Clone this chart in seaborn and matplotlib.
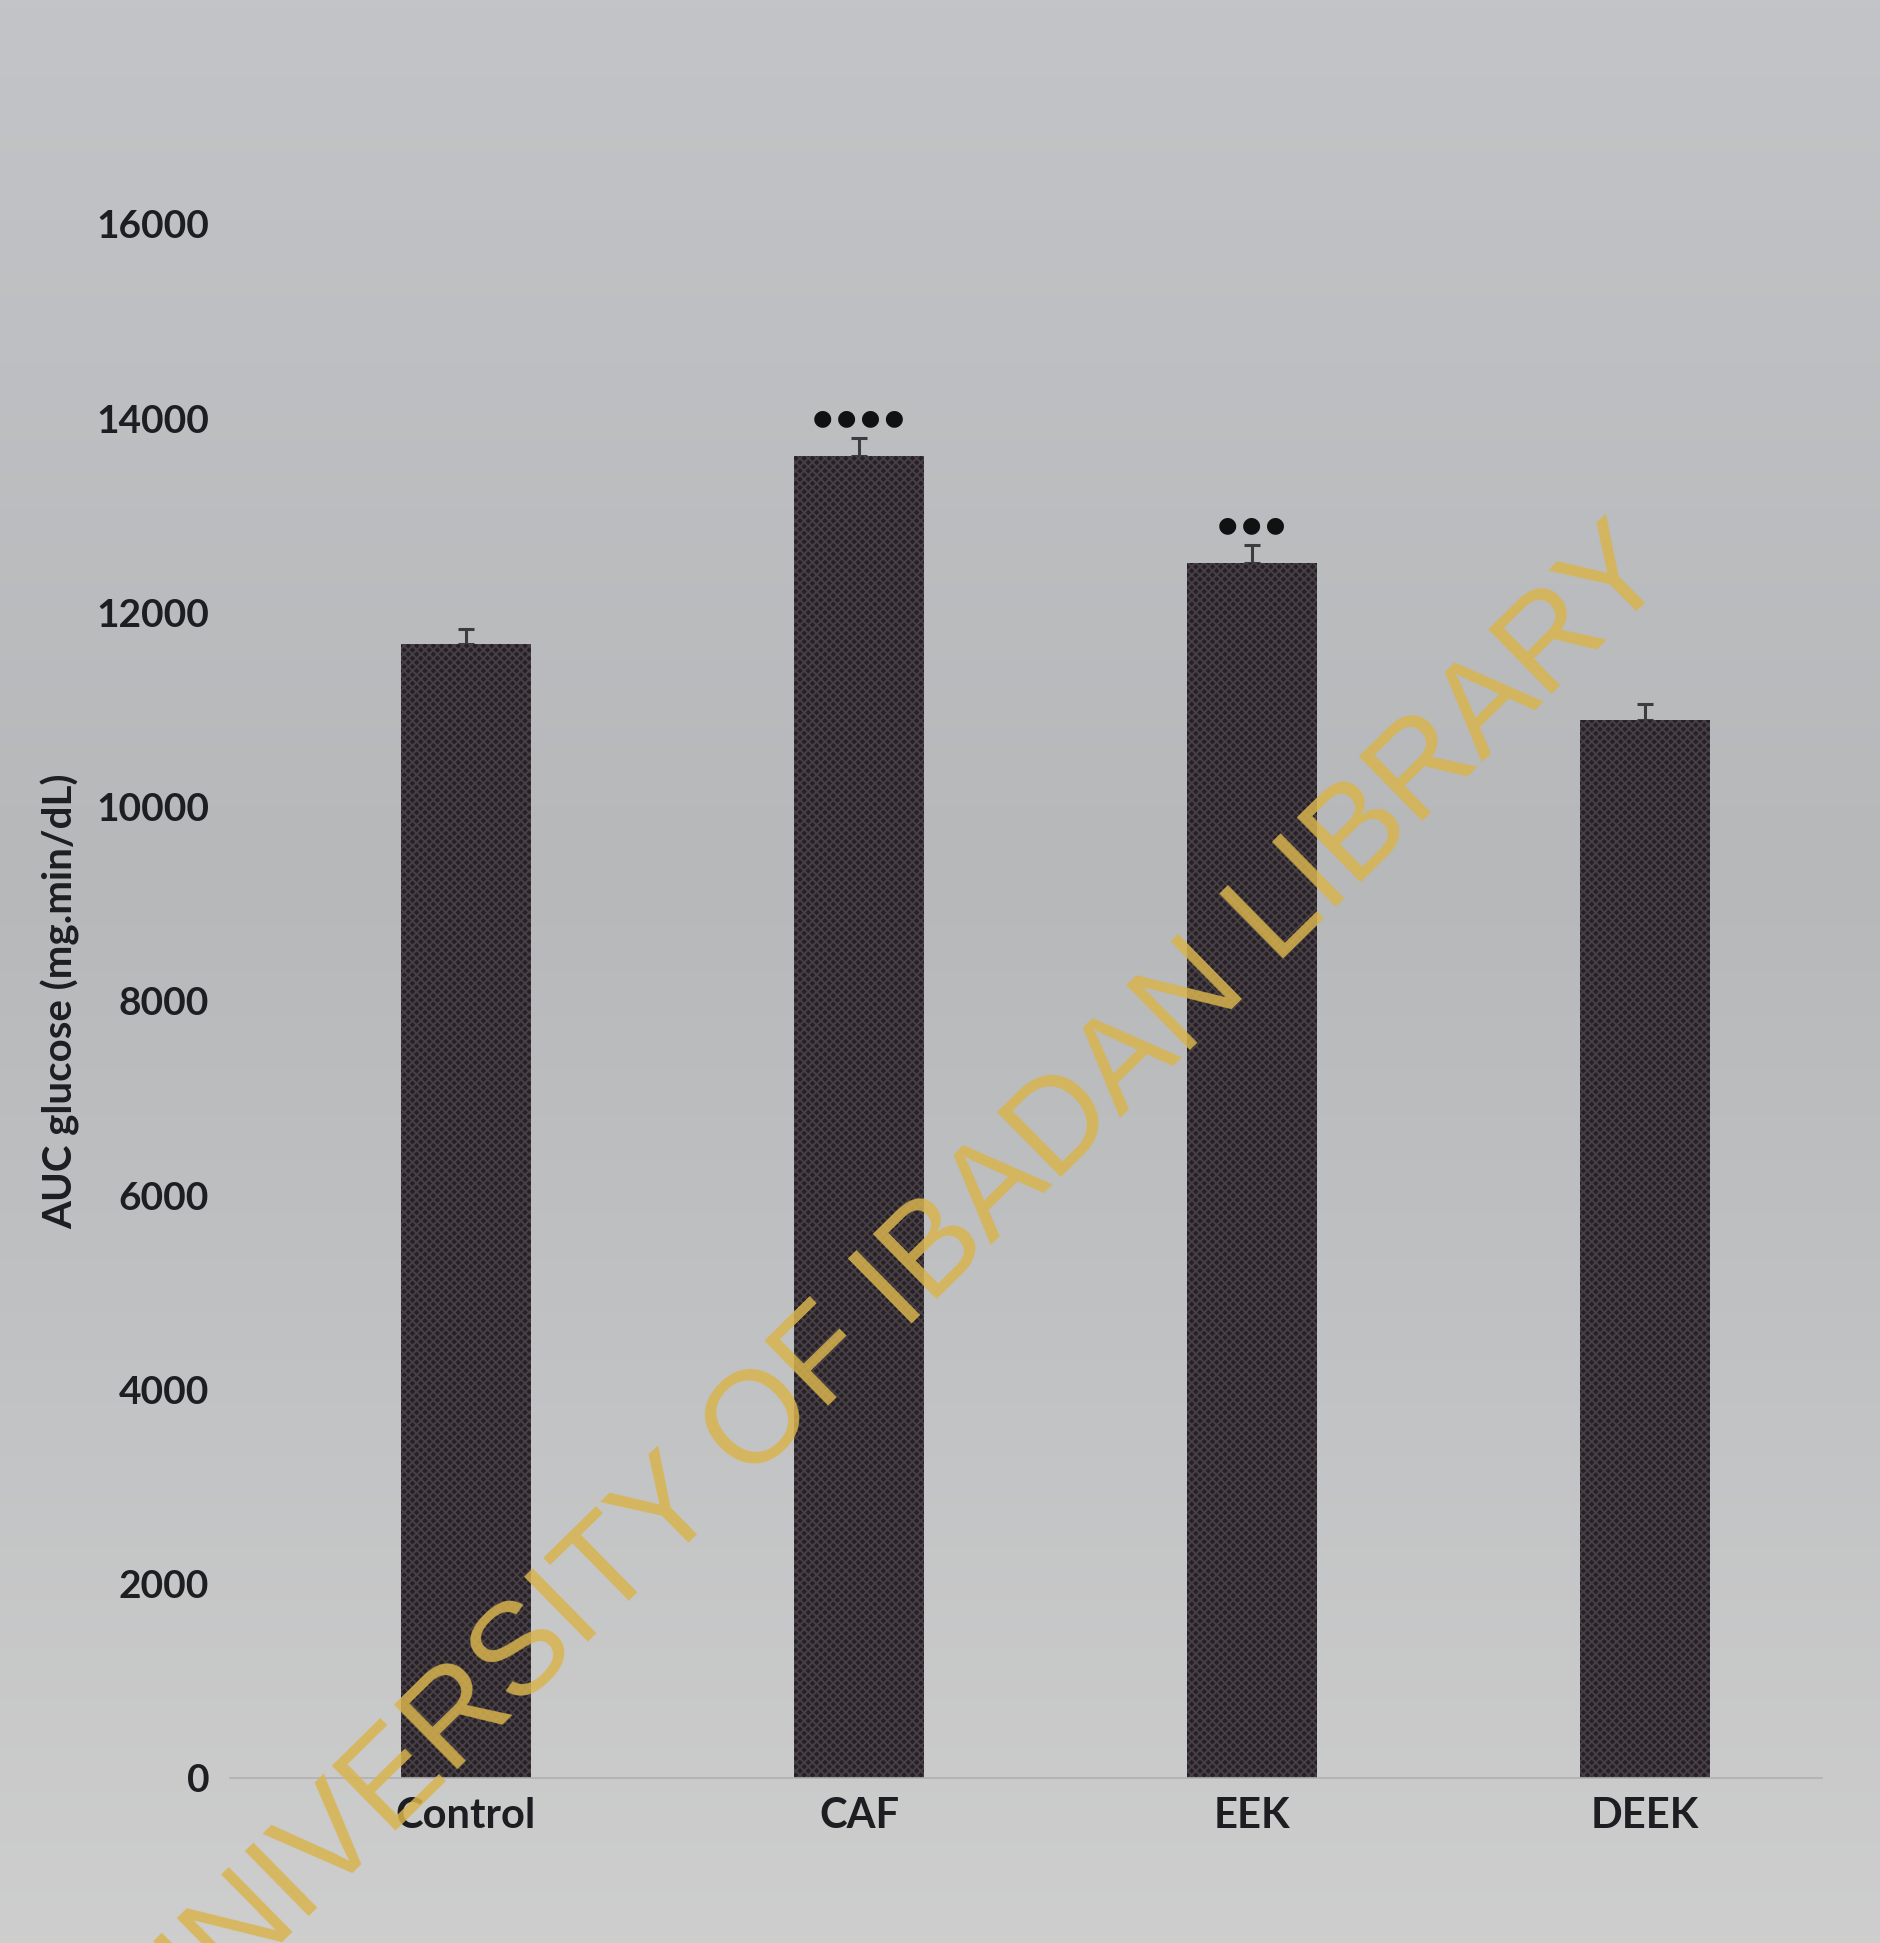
import numpy as np
import matplotlib
matplotlib.use("Agg")
import matplotlib.pyplot as plt
import seaborn as sns

# Area under the glucose curve per treatment group
groups = ["Control", "CAF", "EEK", "DEEK"]
auc_mean = [11680, 13610, 12510, 10890]
auc_sem = [155, 185, 185, 165]
significance = ["", "●\u2009●\u2009●\u2009●", "●\u2009●\u2009●", ""]
y_ticks = [0, 2000, 4000, 6000, 8000, 10000, 12000, 14000, 16000]

sns.set_style("white")
plt.rcParams["font.family"] = ["Lato", "DejaVu Sans"]
plt.rcParams["hatch.linewidth"] = 1.4

W, H = 1881, 1943
fig = plt.figure(figsize=(W / 100, H / 100), dpi=100)

# paper-grey backdrop with a soft vertical shading
bg = fig.add_axes([0, 0, 1, 1], zorder=-10)
top = np.array([0xc2, 0xc4, 0xc7]) / 255
mid = np.array([0xb6, 0xb8, 0xba]) / 255
bot = np.array([0xce, 0xce, 0xce]) / 255
t = np.linspace(0, 1, 256)[:, None]
grad = np.where(t < 0.45, top + (mid - top) * (t / 0.45),
                mid + (bot - mid) * ((t - 0.45) / 0.55))
bg.imshow(grad[:, None, :].repeat(4, axis=1), aspect="auto",
          extent=[0, 1, 0, 1], origin="upper")
bg.set_axis_off()

ax = fig.add_axes([230 / W, 1 - 1778 / H, 1592 / W, (1778 - 224) / H])
ax.set_facecolor("none")

sns.barplot(x=groups, y=auc_mean, color="#272125", width=0.33,
            errorbar=None, saturation=1, ax=ax, zorder=2)
for p in ax.patches:
    p.set_hatch("xxxx")
    p.set_edgecolor("#463f46")
    p.set_linewidth(0)

xs = np.arange(len(groups))
ax.errorbar(xs, auc_mean, yerr=[np.zeros(len(groups)), auc_sem], fmt="none",
            ecolor="#3c3c3e", elinewidth=2.2, capsize=6, capthick=2.2, zorder=1)

for x, m, e, s in zip(xs, auc_mean, auc_sem, significance):
    if s:
        ax.annotate(s, (x, m + e), xytext=(0, 7), textcoords="offset points",
                    ha="center", va="bottom", fontsize=16,
                    family="DejaVu Sans", color="#111111")

ax.set_xlim(-0.6, 3.45)
ax.set_ylim(0, 16000)
ax.set_yticks(y_ticks)
ax.set_yticklabels([str(v) for v in y_ticks])
ax.tick_params(axis="both", length=0, colors="#1e1e22")
ax.tick_params(axis="y", labelsize=28, pad=15)
ax.tick_params(axis="x", labelsize=30, pad=14)
for lab in ax.get_xticklabels() + ax.get_yticklabels():
    lab.set_fontweight("bold")

ax.set_ylabel("AUC glucose (mg.min/dL)", fontsize=29, fontweight="bold",
              color="#1e1e22")
ax.yaxis.set_label_coords(-0.094, 0.5)
ax.set_xlabel("")

for side in ["top", "right", "left"]:
    ax.spines[side].set_visible(False)
ax.spines["bottom"].set_color("#b0b0b2")
ax.spines["bottom"].set_linewidth(1.2)

# library watermark across the page
fig.text(895 / W, 1 - 1292 / H, "UNIVERSITY OF IBADAN LIBRARY",
         rotation=44.5, ha="center", va="center", fontsize=94,
         family="Liberation Sans", color="#d9b44e", alpha=0.85, zorder=20,
         rotation_mode="anchor")

fig.savefig("out.png", dpi=100)
